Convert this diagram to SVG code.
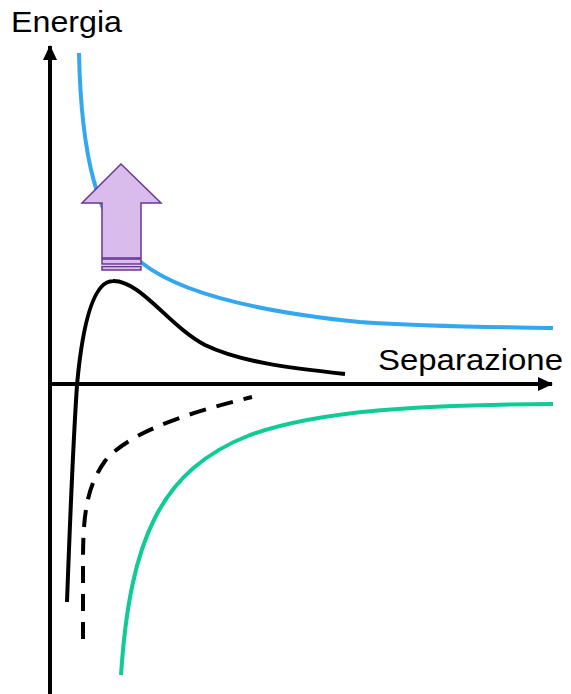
<svg xmlns="http://www.w3.org/2000/svg" width="571" height="694" viewBox="0 0 571 694">
  <defs>
    <marker id="ah" markerUnits="userSpaceOnUse" markerWidth="16" markerHeight="16" viewBox="0 0 16 16" refX="14" refY="8" orient="auto">
      <path d="M0,1 L15,8 L0,15 Z" fill="#000"/>
    </marker>
  </defs>
  <style>
    .axis { stroke: #000; stroke-width: 4; fill: none; }
    .curve { fill: none; stroke-width: 4; stroke-linecap: butt; }
    .lbl { font-family: "Century Gothic", "Liberation Sans", Arial, sans-serif; font-size: 30px; fill: #000; }
    .push { fill: #d9bcec; stroke: #6b3592; stroke-width: 1.5; }
  </style>
  <rect width="571" height="694" fill="#fff"/>
  <g id="axes">
    <line class="axis" x1="50" y1="694" x2="50" y2="46" marker-end="url(#ah)"/>
    <line class="axis" x1="48" y1="384" x2="552" y2="384" marker-end="url(#ah)"/>
  </g>
  <g id="labels">
    <text class="lbl" x="11" y="32" textLength="111" lengthAdjust="spacingAndGlyphs">Energia</text>
    <text class="lbl" x="378" y="370" textLength="185" lengthAdjust="spacingAndGlyphs">Separazione</text>
  </g>
  <g id="curves">
    <path id="blue" class="curve" stroke="#35a7ee" d="M79,53 C81,150 95,225 142,263 C180,293 260,312 360,322 C430,327 500,327 553,328"/>
    <path id="black" class="curve" stroke="#000" d="M67,602 C70,520 74,430 77,385 C82,330 92,281 113,281 C140,280 170,327 205,345 C240,362 290,368 345,374"/>
    <path id="dashed" class="curve" stroke="#000" stroke-dasharray="17 11" d="M83,639 L83,560 C83,510 88,485 105,461 C125,437 170,417 252,397"/>
    <path id="green" class="curve" stroke="#0fcb96" d="M121,675 C130,540 160,470 250,435 C320,410 420,405 553,404"/>
  </g>
  <g id="arrow">
    <path class="push" d="M121,164 L161,203 L141,203 L141,258 L102,258 L102,203 L82,203 Z"/>
    <rect class="push" x="102" y="259" width="39" height="5"/>
    <rect class="push" x="102" y="266.5" width="39" height="3.5" fill="#8d5bb0"/>
  </g>
</svg>
